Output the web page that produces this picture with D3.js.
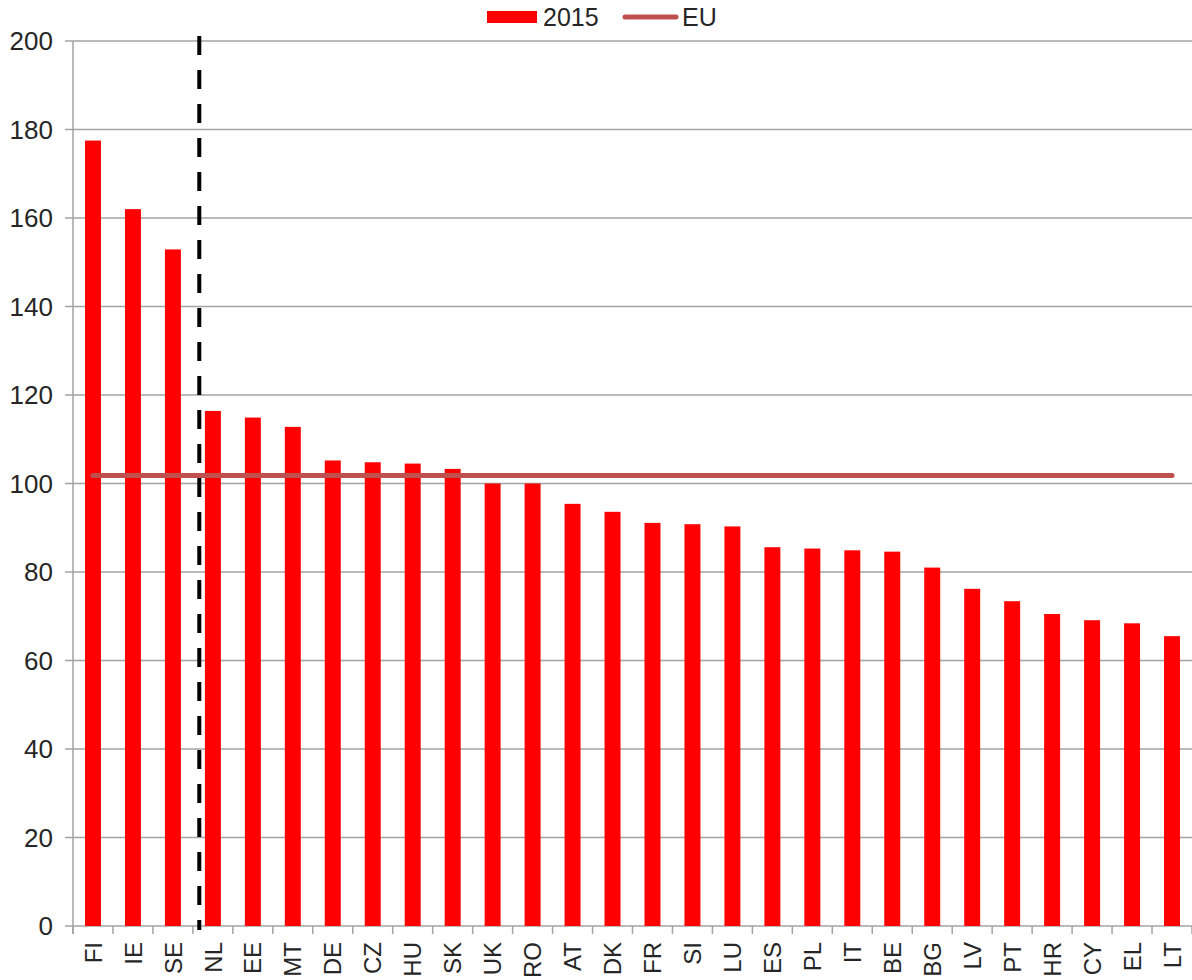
<!DOCTYPE html>
<html>
<head>
<meta charset="utf-8">
<script src="https://cdn.jsdelivr.net/npm/d3@7"></script>
<style>
  body { margin: 0; background: #fff; }
  svg { display: block; font-family: "Liberation Sans", Arial, sans-serif; }
</style>
</head>
<body>
<svg></svg>
<script>
// Data
const countries = ["FI", "IE", "SE", "NL", "EE", "MT", "DE", "CZ", "HU", "SK", "UK", "RO", "AT", "DK",
                   "FR", "SI", "LU", "ES", "PL", "IT", "BE", "BG", "LV", "PT", "HR", "CY", "EL", "LT"];
const values2015 = [177.5, 162.0, 152.9, 116.4, 114.9, 112.8, 105.2, 104.8, 104.5, 103.3, 100.0, 100.0, 95.4, 93.6,
                     91.1, 90.8, 90.3, 85.6, 85.3, 84.9, 84.6, 81.0, 76.2, 73.4, 70.5, 69.1, 68.4, 65.5];
const euValue = 101.8;
const yTicks = [0, 20, 40, 60, 80, 100, 120, 140, 160, 180, 200];
const dividerBefore = "NL";

// Set up SVG canvas
const width = 1192, height = 980;
const margin = { top: 41, right: 0, bottom: 54, left: 73 };
const svg = d3.select("svg")
    .attr("width", width)
    .attr("height", height);

// Scales
const xScale = d3.scaleBand()
    .domain(countries)
    .range([margin.left, width - margin.right])
    .paddingInner(0.6)
    .paddingOuter(0.3);

const yScale = d3.scaleLinear()
    .domain([0, 200])
    .range([height - margin.bottom, margin.top]);

// Horizontal gridlines
svg.append("g")
    .selectAll("line")
    .data(yTicks)
    .enter()
    .append("line")
    .attr("x1", margin.left - 8)
    .attr("x2", width)
    .attr("y1", d => yScale(d))
    .attr("y2", d => yScale(d))
    .attr("stroke", "#a3a3a3")
    .attr("stroke-width", 1.5);

// Y axis labels
svg.append("g")
    .selectAll("text")
    .data(yTicks)
    .enter()
    .append("text")
    .attr("x", margin.left - 20)
    .attr("y", d => yScale(d))
    .attr("dy", "0.36em")
    .attr("text-anchor", "end")
    .attr("font-size", 26)
    .attr("fill", "#262626")
    .text(d => d);

// Left axis line
svg.append("line")
    .attr("x1", margin.left).attr("x2", margin.left)
    .attr("y1", yScale(200)).attr("y2", yScale(0) + 8)
    .attr("stroke", "#a3a3a3")
    .attr("stroke-width", 1.5);

// Bottom ticks at band boundaries
const step = xScale.step();
const boundaries = d3.range(countries.length + 1).map(i => margin.left + i * step);
svg.append("g")
    .selectAll("line")
    .data(boundaries)
    .enter()
    .append("line")
    .attr("x1", d => d).attr("x2", d => d)
    .attr("y1", yScale(0)).attr("y2", yScale(0) + 8)
    .attr("stroke", "#a3a3a3")
    .attr("stroke-width", 1.5);

// Bars
svg.append("g")
    .selectAll("rect")
    .data(countries)
    .enter()
    .append("rect")
    .attr("x", d => xScale(d))
    .attr("y", (d, i) => yScale(values2015[i]))
    .attr("width", xScale.bandwidth())
    .attr("height", (d, i) => yScale(0) - yScale(values2015[i]))
    .attr("fill", "#ff0000");

// Country labels, rotated
svg.append("g")
    .selectAll("text")
    .data(countries)
    .enter()
    .append("text")
    .attr("transform", d => `translate(${xScale(d) + xScale.bandwidth() / 2}, ${yScale(0) + 16}) rotate(-90)`)
    .attr("dy", "0.36em")
    .attr("text-anchor", "end")
    .attr("font-size", 24)
    .attr("fill", "#262626")
    .text(d => d);

// EU average line
svg.append("line")
    .attr("x1", xScale(countries[0]) + xScale.bandwidth() / 2)
    .attr("x2", xScale(countries[countries.length - 1]) + xScale.bandwidth() / 2)
    .attr("y1", yScale(euValue))
    .attr("y2", yScale(euValue))
    .attr("stroke", "#c0504d")
    .attr("stroke-width", 5)
    .attr("stroke-linecap", "round");

// Dashed divider
const divX = xScale(dividerBefore) - xScale.bandwidth() * 0.35;
svg.append("line")
    .attr("x1", divX).attr("x2", divX)
    .attr("y1", yScale(200) - 5).attr("y2", yScale(0) + 4)
    .attr("stroke", "#000")
    .attr("stroke-width", 4)
    .attr("stroke-dasharray", "19,15");

// Legend
const legend = svg.append("g");
legend.append("rect")
    .attr("x", 487).attr("y", 11)
    .attr("width", 50).attr("height", 12)
    .attr("fill", "#ff0000");
legend.append("text")
    .attr("x", 543).attr("y", 17)
    .attr("dy", "0.36em")
    .attr("font-size", 25)
    .attr("fill", "#262626")
    .text("2015");
legend.append("line")
    .attr("x1", 625).attr("x2", 676)
    .attr("y1", 17).attr("y2", 17)
    .attr("stroke", "#c0504d")
    .attr("stroke-width", 5)
    .attr("stroke-linecap", "round");
legend.append("text")
    .attr("x", 682).attr("y", 17)
    .attr("dy", "0.36em")
    .attr("font-size", 25)
    .attr("fill", "#262626")
    .text("EU");
</script>
</body>
</html>
